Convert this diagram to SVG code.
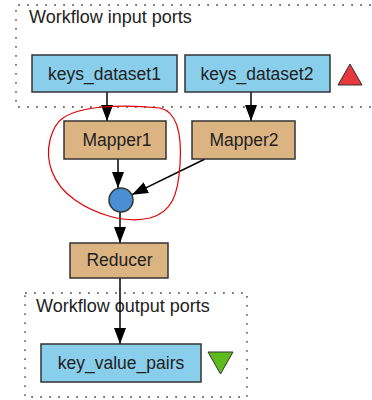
<svg xmlns="http://www.w3.org/2000/svg" width="372" height="400" viewBox="0 0 372 400">
<defs>
<style>
text{font-family:"Liberation Sans",Arial,sans-serif;font-size:17.5px;fill:#222}
.c{text-anchor:middle}
.port{fill:#89cfeb;stroke:#333;stroke-width:1.5}
.proc{fill:#dcb482;stroke:#333;stroke-width:1.5}
.dot{fill:none;stroke:#777;stroke-width:1.8;stroke-dasharray:1.8 7.2}
.e{stroke:#000;stroke-width:1.5;fill:none;marker-end:url(#ah)}
</style>
<marker id="ah" markerUnits="userSpaceOnUse" markerWidth="16" markerHeight="12" refX="16" refY="6" orient="auto" viewBox="0 0 16 12">
<path d="M0,0 L16,6 L0,12 Z" fill="#000"/>
</marker>
</defs>
<rect width="372" height="400" fill="#fff"/>
<g id="input-ports">
<path class="dot" d="M380,5 H16 V107 H380"/>
<text x="29" y="23" style="font-size:18px">Workflow input ports</text>
</g>
<g id="output-ports">
<rect class="dot" x="25" y="293" width="222" height="104"/>
<text x="36" y="312" style="font-size:18px">Workflow output ports</text>
</g>
<g id="connectors">
<line class="e" x1="107" y1="92" x2="107" y2="121"/>
<line class="e" x1="251" y1="92" x2="251" y2="121"/>
<line class="e" x1="118" y1="159" x2="118" y2="188"/>
<line class="e" x1="205" y1="159" x2="132" y2="194.7"/>
<line class="e" x1="120" y1="212" x2="120" y2="243"/>
<line class="e" x1="120" y1="278" x2="120" y2="344"/>
</g>
<g id="keys_dataset1">
<rect class="port" x="32" y="55" width="145" height="37"/>
<text class="c" x="104.5" y="80">keys_dataset1</text>
</g>
<g id="keys_dataset2">
<rect class="port" x="185" y="55" width="145" height="37"/>
<text class="c" x="257" y="80">keys_dataset2</text>
</g>
<g id="input-marker">
<path d="M338,85 L350,64 L362,85 Z" fill="#e8383d" stroke="#333" stroke-width="1"/>
</g>
<g id="Mapper1">
<rect class="proc" x="64" y="121" width="102" height="38"/>
<text class="c" x="117" y="146">Mapper1</text>
</g>
<g id="Mapper2">
<rect class="proc" x="192" y="121" width="103" height="38"/>
<text class="c" x="244" y="146">Mapper2</text>
</g>
<g id="merge">
<circle cx="121" cy="200" r="12" fill="#4b8fd3" stroke="#333" stroke-width="1.5"/>
</g>
<g id="Reducer">
<rect class="proc" x="70" y="243" width="98" height="35"/>
<text class="c" x="119.5" y="266">Reducer</text>
</g>
<g id="key_value_pairs">
<rect class="port" x="41" y="344" width="160" height="38"/>
<text class="c" x="121" y="369">key_value_pairs</text>
</g>
<g id="output-marker">
<path d="M208,352 L233,352 L220.5,374 Z" fill="#5dbb1e" stroke="#333" stroke-width="1"/>
</g>
<g id="annotation">
<path d="M63,118 C80,106 120,104 160,108 C178,112 182,135 180,165 C178,195 172,212 150,218 C125,224 95,214 75,200 C52,184 45,160 50,140 C53,128 57,122 63,118 Z" fill="none" stroke="#e00000" stroke-width="1.2"/>
</g>
</svg>
